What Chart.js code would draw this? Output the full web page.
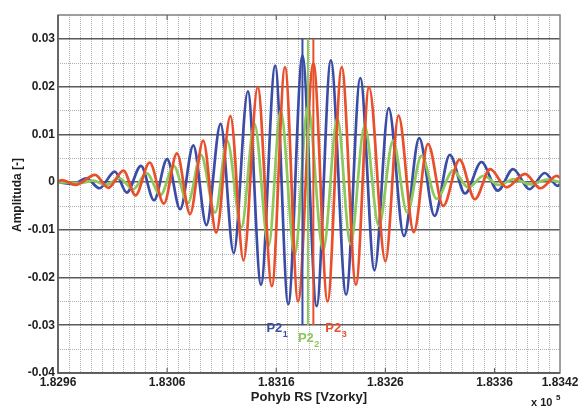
<!DOCTYPE html>
<html>
<head>
<meta charset="utf-8">
<title>P2 - pohyb RS</title>
<script src="https://cdn.jsdelivr.net/npm/chart.js@4.4.1/dist/chart.umd.min.js"></script>
<style>
  html, body { margin: 0; padding: 0; background: #fff; }
  #wrap { width: 581px; height: 407px; }
</style>
</head>
<body>
<div id="wrap"><canvas id="chart" width="581" height="407"></canvas></div>
<script>
// turning points of the three signals: sample index and amplitude
const p21X = [182960, 182974, 182986, 182998, 183012, 183023, 183036, 183048, 183060, 183072,
  183084, 183096, 183109, 183121, 183134, 183146, 183159, 183171, 183184, 183197,
  183210, 183224, 183237, 183250, 183263, 183277, 183291, 183305, 183319, 183333,
  183348, 183363, 183377, 183392, 183406, 183418, 183420];
const p21Y = [0, -0.0004, 0.0008, -0.0013, 0.0022, -0.0022, 0.0034, -0.0038, 0.0048, -0.0057,
  0.0077, -0.009, 0.0122, -0.0149, 0.019, -0.0215, 0.0244, -0.0256, 0.0265, -0.026,
  0.0255, -0.0236, 0.0218, -0.0185, 0.0155, -0.0113, 0.0092, -0.0071, 0.0057, -0.0024,
  0.0042, -0.0018, 0.0027, -0.0015, 0.0019, -0.0008, -0.0004];

const p22X = [182960, 182980, 182992, 183004, 183016, 183029, 183041, 183054, 183066, 183079,
  183091, 183104, 183115, 183128, 183140, 183153, 183164, 183177, 183189, 183203,
  183216, 183228, 183241, 183254, 183267, 183280, 183293, 183307, 183322, 183336,
  183350, 183364, 183378, 183393, 183408, 183420];
const p22Y = [0, -0.0002, 0.0003, -0.0006, 0.0008, -0.0015, 0.0019, -0.0027, 0.0034, -0.0044,
  0.0057, -0.0064, 0.0087, -0.0095, 0.0122, -0.0134, 0.0149, -0.0151, 0.0158, -0.0143,
  0.0134, -0.013, 0.0118, -0.0092, 0.0087, -0.0064, 0.0055, -0.0035, 0.0024, -0.0011,
  0.0013, -0.0006, 0.0006, -0.0005, 0.0005, 0];

const p23X = [182960, 182964, 182976, 182994, 183006, 183020, 183031, 183044, 183057, 183069,
  183081, 183093, 183105, 183118, 183130, 183143, 183156, 183168, 183180, 183194,
  183207, 183220, 183233, 183245, 183260, 183272, 183286, 183299, 183313, 183328,
  183342, 183356, 183371, 183388, 183402, 183417, 183420];
const p23Y = [0.0002, 0.0004, -0.0006, 0.0015, -0.0012, 0.0024, -0.0028, 0.0041, -0.0045, 0.006,
  -0.0067, 0.0087, -0.0106, 0.0138, -0.0164, 0.0199, -0.0218, 0.0241, -0.025, 0.0249,
  -0.025, 0.0241, -0.0215, 0.0199, -0.0166, 0.0139, -0.0105, 0.008, -0.005, 0.0047,
  -0.0036, 0.0027, -0.0011, 0.0017, -0.0013, 0.0013, 0.0009];

// main peak of each signal, marked by a vertical line
const seriesNames = ['P2', 'P2', 'P2'];
const seriesIndex = ['1', '2', '3'];
const peakX = [183184, 183189, 183194];
const markerRange = [0.03, -0.03];

const xTickValues = [182960, 183060, 183160, 183260, 183360, 183420];
const xTickLabels = ['1.8296', '1.8306', '1.8316', '1.8326', '1.8336', '1.8342'];
const yTickValues = [-0.04, -0.03, -0.02, -0.01, 0, 0.01, 0.02, 0.03];
const yTickLabels = ['-0.04', '-0.03', '-0.02', '-0.01', '0', '0.01', '0.02', '0.03'];

const colors = ['#3b4ca6', '#8cc85c', '#ea4f2c'];
const FONT = '"Liberation Sans", Arial, sans-serif';

const toPoints = (xs, ys) => xs.map((x, i) => ({ x, y: ys[i] }));

const waveStyle = (color, order) => ({
  borderColor: color,
  borderWidth: 2.7,
  pointRadius: 0,
  fill: false,
  cubicInterpolationMode: 'monotone',
  order,
});

const markerStyle = (color) => ({
  borderColor: color,
  borderWidth: 2,
  pointRadius: 0,
  tension: 0,
  order: 0,
});

// white background plus the dotted minor grid
const minorGrid = {
  id: 'minorGrid',
  beforeDraw(chart) {
    const { ctx, chartArea: a, scales: { x, y } } = chart;
    ctx.save();
    ctx.fillStyle = '#fff';
    ctx.fillRect(0, 0, chart.width, chart.height);
    ctx.strokeStyle = '#b0b0b0';
    ctx.lineWidth = 1;
    ctx.setLineDash([1, 1]);
    for (let v = x.min + 10; v < x.max; v += 10) {
      const px = Math.round(x.getPixelForValue(v)) + 0.5;
      ctx.beginPath();
      ctx.moveTo(px, a.top);
      ctx.lineTo(px, a.bottom);
      ctx.stroke();
    }
    for (let v = y.min + 0.005; v < y.max - 0.001; v += 0.01) {
      const py = Math.round(y.getPixelForValue(v)) + 0.5;
      ctx.beginPath();
      ctx.moveTo(a.left, py);
      ctx.lineTo(a.right, py);
      ctx.stroke();
    }
    ctx.restore();
  },
};

// frame, inner tick marks, axis titles and the P2 labels
const decorations = {
  id: 'decorations',
  afterDraw(chart) {
    const { ctx, chartArea: a, scales: { x, y } } = chart;
    ctx.save();

    ctx.strokeStyle = '#808080';
    ctx.lineWidth = 1.5;
    ctx.strokeRect(a.left, a.top, a.right - a.left, a.bottom - a.top);
    ctx.strokeStyle = '#555';
    ctx.beginPath();
    ctx.moveTo(a.left, a.top);
    ctx.lineTo(a.left, a.bottom);
    ctx.lineTo(a.right, a.bottom);
    ctx.stroke();

    ctx.strokeStyle = '#666';
    ctx.lineWidth = 1.2;
    xTickValues.slice(1, -1).forEach((v) => {
      const px = x.getPixelForValue(v);
      ctx.beginPath();
      ctx.moveTo(px, a.top);
      ctx.lineTo(px, a.top + 5);
      ctx.moveTo(px, a.bottom);
      ctx.lineTo(px, a.bottom - 5);
      ctx.stroke();
    });

    ctx.fillStyle = '#1e1e1e';
    ctx.font = 'bold 13px ' + FONT;
    ctx.textAlign = 'center';
    ctx.textBaseline = 'alphabetic';
    ctx.fillText('Pohyb RS [Vzorky]', (a.left + a.right) / 2, 401);

    ctx.textAlign = 'left';
    ctx.font = 'bold 11px ' + FONT;
    ctx.fillText('x 10', 531, 406);
    ctx.font = 'bold 8px ' + FONT;
    ctx.fillText('5', 556, 400);

    ctx.save();
    ctx.translate(17, 195);
    ctx.rotate(-Math.PI / 2);
    ctx.font = 'bold 12px ' + FONT;
    ctx.textAlign = 'center';
    ctx.fillText('Amplituda [-]', 0, 4);
    ctx.restore();

    // label offsets from each marker line (pixels) and baselines
    const offsets = [[-36, 332], [-10, 342], [12, 332]];
    seriesNames.forEach((name, i) => {
      const px = x.getPixelForValue(peakX[i]) + offsets[i][0];
      const base = offsets[i][1];
      ctx.fillStyle = colors[i];
      ctx.font = 'bold 13px ' + FONT;
      ctx.textAlign = 'left';
      ctx.fillText(name, px, base);
      const w = ctx.measureText(name).width;
      ctx.font = 'bold 9px ' + FONT;
      ctx.fillText(seriesIndex[i], px + w + 0.5, base + 5);
    });

    ctx.restore();
  },
};

const tickFont = { family: FONT, size: 12, weight: 'bold' };

new Chart(document.getElementById('chart'), {
  type: 'line',
  data: {
    datasets: [
      { label: 'P2_1', data: toPoints(p21X, p21Y), ...waveStyle(colors[0], 3) },
      { label: 'P2_2', data: toPoints(p22X, p22Y), ...waveStyle(colors[1], 2) },
      { label: 'P2_3', data: toPoints(p23X, p23Y), ...waveStyle(colors[2], 1) },
      ...peakX.map((px, i) => ({
        label: 'peak ' + (i + 1),
        data: markerRange.map((v) => ({ x: px, y: v })),
        ...markerStyle(colors[i]),
      })),
    ],
  },
  options: {
    responsive: false,
    animation: false,
    events: [],
    layout: { padding: { top: 15, right: 21, left: 0, bottom: 0 } },
    plugins: {
      legend: { display: false },
      tooltip: { enabled: false },
    },
    scales: {
      x: {
        type: 'linear',
        min: 182960,
        max: 183420,
        afterBuildTicks: (scale) => {
          scale.ticks = xTickValues.map((value) => ({ value }));
        },
        afterFit: (scale) => {
          scale.height = 34;
        },
        ticks: {
          autoSkip: false,
          maxRotation: 0,
          padding: 2,
          color: '#1e1e1e',
          font: tickFont,
          callback: (v) => xTickLabels[xTickValues.indexOf(v)],
        },
        grid: { display: false, drawTicks: false },
        border: { display: false },
      },
      y: {
        type: 'linear',
        min: -0.04,
        max: 0.035,
        afterBuildTicks: (scale) => {
          scale.ticks = yTickValues.map((value) => ({ value }));
        },
        afterFit: (scale) => {
          scale.width = 58;
        },
        ticks: {
          padding: 3,
          color: '#1e1e1e',
          font: tickFont,
          callback: (v) => yTickLabels[yTickValues.findIndex((t) => Math.abs(t - v) < 1e-9)],
        },
        grid: { color: '#5a5a5a', lineWidth: 1.6, drawTicks: false },
        border: { display: false },
      },
    },
  },
  plugins: [minorGrid, decorations],
});
</script>
</body>
</html>
